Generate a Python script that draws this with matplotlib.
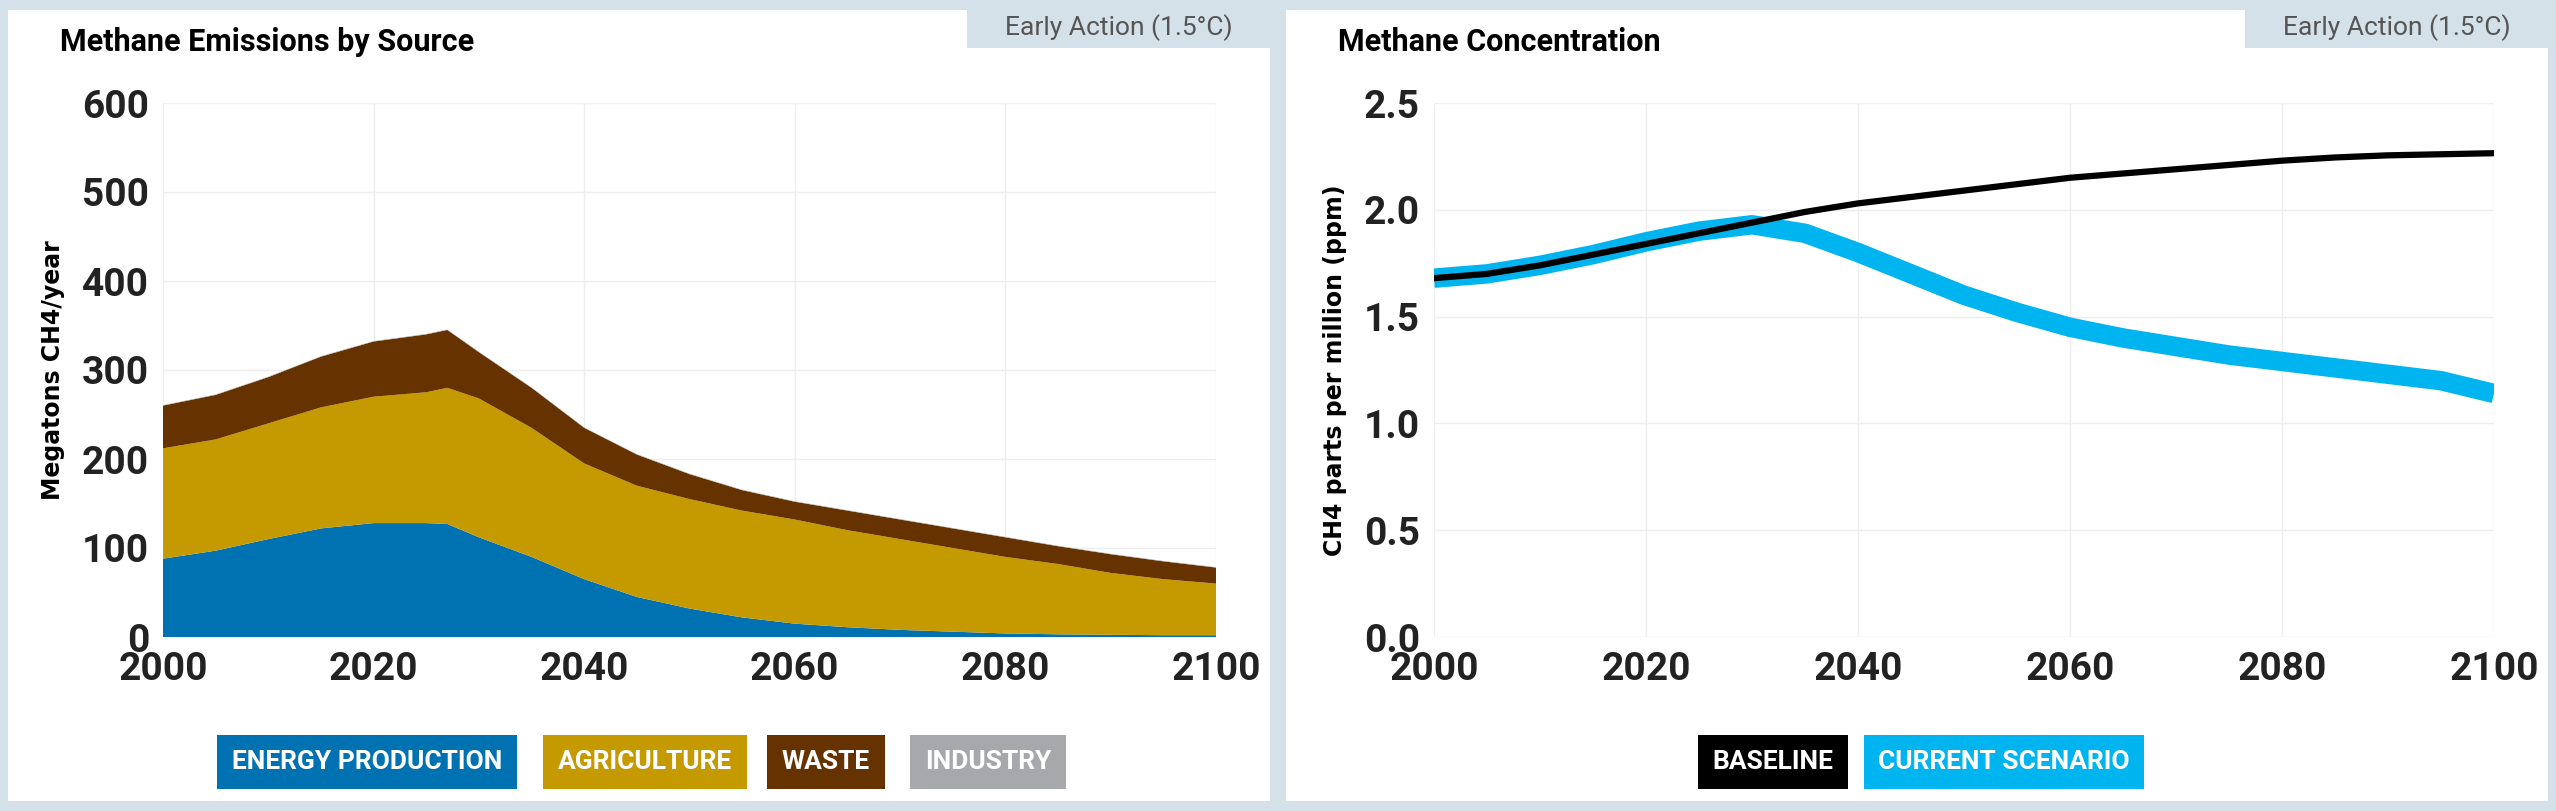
import matplotlib.pyplot as plt
from matplotlib.patches import Rectangle

years = [2000, 2005, 2010, 2015, 2020, 2025, 2027, 2030, 2035, 2040, 2045, 2050,
         2055, 2060, 2065, 2070, 2075, 2080, 2085, 2090, 2095, 2100]
energy = [88, 97, 110, 122, 128, 128, 127, 112, 90, 65, 45, 32, 22, 15, 11, 8, 6, 4, 3, 2.5, 2, 2]
agriculture = [124, 125, 130, 136, 142, 147, 153, 156, 145, 130, 125, 123, 120, 117, 109, 102, 94, 86, 79, 69.5, 63, 58]
waste = [48, 50, 52, 57, 62, 65, 65, 52, 45, 40, 35, 28, 23, 20, 22, 22, 22, 22, 20, 21, 20, 18]
industry = [0.5] * 22

conc_years = [2000, 2005, 2010, 2015, 2020, 2025, 2030, 2035, 2040, 2045, 2050,
              2055, 2060, 2065, 2070, 2075, 2080, 2085, 2090, 2095, 2100]
baseline = [1.68, 1.70, 1.74, 1.79, 1.84, 1.89, 1.94, 1.99, 2.03, 2.06, 2.09,
            2.12, 2.15, 2.17, 2.19, 2.21, 2.23, 2.245, 2.255, 2.26, 2.265]
current = [1.68, 1.70, 1.74, 1.79, 1.85, 1.90, 1.93, 1.89, 1.80, 1.70, 1.60,
           1.52, 1.45, 1.40, 1.36, 1.32, 1.29, 1.26, 1.23, 1.20, 1.14]

c_energy, c_agri, c_waste, c_ind = '#0072b2', '#c59900', '#663300', '#a6a8ab'
c_base, c_cur = '#000000', '#00b4ef'
bg = '#d5e1e8'

W, H = 2556, 811
fig = plt.figure(figsize=(W / 100, H / 100), dpi=100, facecolor=bg)
plt.rcParams['font.family'] = ['Roboto', 'DejaVu Sans']

# white panels (behind the axes)
for x0, x1 in [(8, 1270), (1286, 2548)]:
    fig.patches.append(Rectangle((x0 / W, 10 / H), (x1 - x0) / W, (H - 20) / H,
                                 transform=fig.transFigure, facecolor='white',
                                 edgecolor='none', zorder=-2))


def style(ax, ylim, yticks, fmt):
    ax.set_xlim(2000, 2100)
    ax.set_ylim(*ylim)
    ax.set_xticks(range(2000, 2101, 20))
    ax.set_yticks(yticks)
    ax.set_yticklabels([fmt.format(v) for v in yticks])
    for s in ax.spines.values():
        s.set_visible(False)
    ax.grid(color='#eeeeee', linewidth=1)
    ax.set_axisbelow(True)
    ax.tick_params(length=0, labelsize=28, pad=10)
    for t in ax.get_xticklabels() + ax.get_yticklabels():
        t.set_fontweight('bold')
        t.set_color('#222222')


# left chart
ax1 = fig.add_axes([163 / W, (H - 637) / H, (1216 - 163) / W, (637 - 103) / H])
ax1.stackplot(years, energy, agriculture, waste, industry,
              colors=[c_energy, c_agri, c_waste, c_ind], linewidth=0)
style(ax1, (0, 600), range(0, 601, 100), '{:d}')
ax1.set_ylabel('Megatons CH4/year', fontsize=17, fontweight='bold', family='DejaVu Sans', labelpad=12)

# right chart
ax2 = fig.add_axes([1434 / W, (H - 637) / H, (2494 - 1434) / W, (637 - 103) / H])
ax2.plot(conc_years, current, color=c_cur, linewidth=14, solid_capstyle='butt')
ax2.plot(conc_years, baseline, color=c_base, linewidth=4.5)
style(ax2, (0, 2.5), [0, 0.5, 1.0, 1.5, 2.0, 2.5], '{:.1f}')
ax2.set_ylabel('CH4 parts per million (ppm)', fontsize=17, fontweight='bold', family='DejaVu Sans', labelpad=12)

# titles and tags
for x, title in [(60, 'Methane Emissions by Source'), (1338, 'Methane Concentration')]:
    fig.text(x / W, 1 - 42 / H, title, fontsize=22, fontweight='bold', va='center')
for x0 in [967, 2245]:
    fig.patches.append(Rectangle((x0 / W, (H - 48) / H), 303 / W, 40 / H,
                                 transform=fig.transFigure, facecolor=bg,
                                 edgecolor='none', zorder=-1))
    fig.text((x0 + 152) / W, 1 - 28 / H, 'Early Action (1.5°C)', fontsize=19,
             color='#555555', ha='center', va='center')


def legend(items, y):
    for x, label, col in items:
        fig.text(x / W, 1 - y / H, label, fontsize=19, fontweight='bold', color='white',
                 ha='center', va='center',
                 bbox=dict(boxstyle='square,pad=0.55', facecolor=col, edgecolor='none'))


legend([(367, 'ENERGY PRODUCTION', c_energy), (645, 'AGRICULTURE', c_agri),
        (826, 'WASTE', c_waste), (988, 'INDUSTRY', c_ind)], 762)
legend([(1773, 'BASELINE', c_base), (2004, 'CURRENT SCENARIO', c_cur)], 762)

fig.savefig('out.png', dpi=100, facecolor=bg)
